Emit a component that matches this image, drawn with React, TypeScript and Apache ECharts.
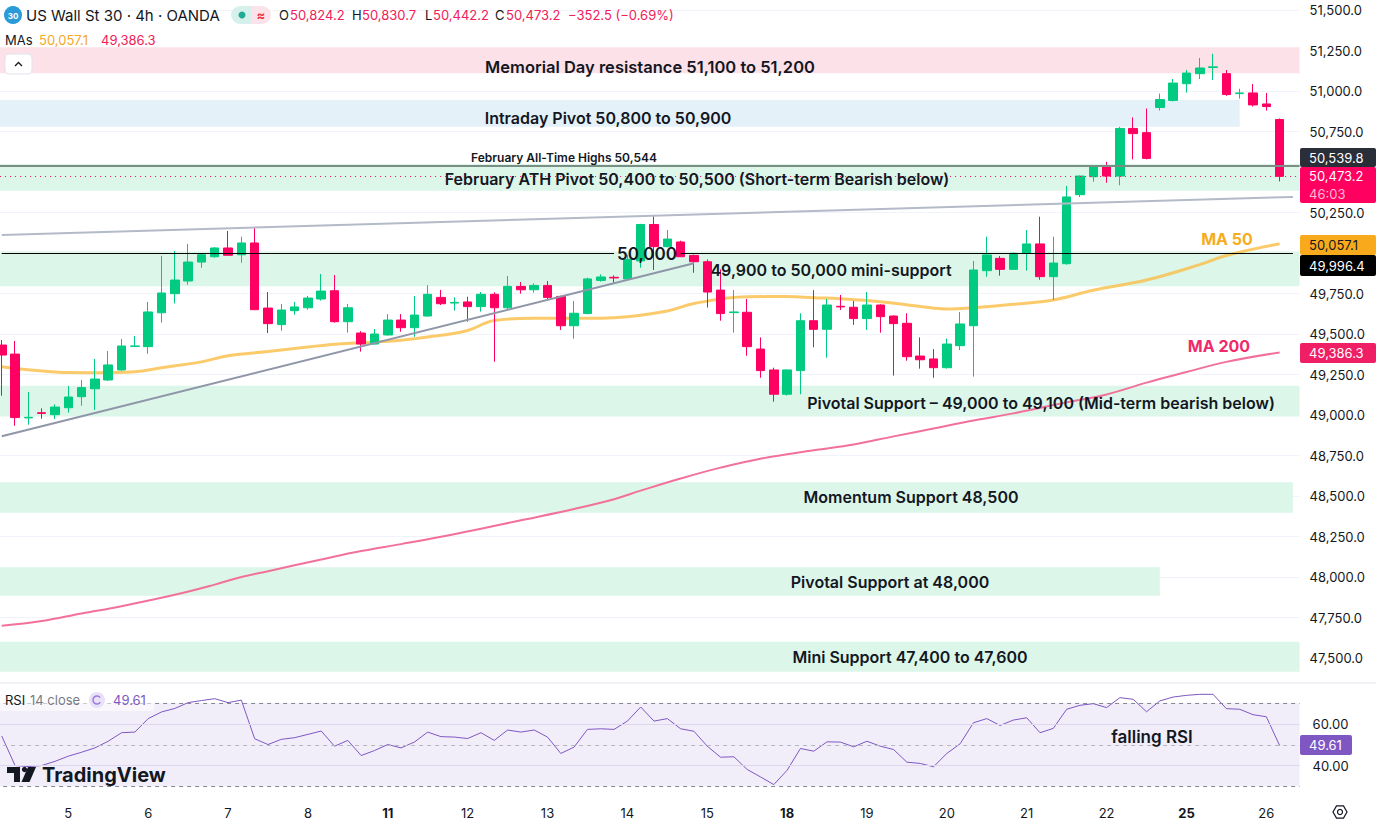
import React, { useEffect, useRef } from "react";
import * as echarts from "echarts";

// ---------- categories (4h candles) ----------
const days = ["4", "5", "6", "7", "8", "11", "12", "13", "14", "15", "18", "19", "20", "21", "22", "25", "26"];
const mondayDays = ["11", "18", "25"];
const hourSlots = ["00", "04", "08", "12", "16", "20"];
const firstDaySlots = 5;
const lastDaySlots = 3;
const FIRST = -5;

// ---------- OHLC (candle index -5 .. 91) ----------
const openP = [49432, 49376, 48982, 49014, 49002, 49045, 49113, 49162, 49216, 49278, 49424, 49422, 49631, 49749, 49827, 49944, 49977, 50031, 49989, 50062, 49660, 49558, 49644, 49662, 49716, 49767, 49576, 49506, 49438, 49494, 49586, 49539, 49611, 49726, 49691, 49698, 49669, 49745, 49662, 49794, 49773, 49800, 49732, 49551, 49626, 49831, 49850, 49840, 49951, 50176, 50039, 50068, 49985, 49946, 49771, 49632, 49634, 49407, 49278, 49128, 49274, 49582, 49529, 49671, 49665, 49595, 49679, 49611, 49566, 49364, 49346, 49292, 49428, 49551, 49891, 49967, 49899, 49998, 50056, 49854, 49934, 50360, 50471, 50532, 50475, 50769, 50743, 50898, 50942, 51045, 51107, 51145, 51107, 50984, 50988, 50920, 50824.2];
const closeP = [49370, 48984, 48986, 49010, 49049, 49111, 49169, 49222, 49309, 49426, 49426, 49636, 49753, 49833, 49944, 49989, 50031, 49986, 50062, 49650, 49564, 49648, 49667, 49722, 49765, 49576, 49662, 49438, 49500, 49586, 49539, 49617, 49745, 49687, 49695, 49669, 49745, 49662, 49794, 49773, 49800, 49726, 49551, 49628, 49840, 49852, 49846, 49961, 50176, 50039, 50086, 49977, 49946, 49759, 49626, 49636, 49422, 49274, 49128, 49278, 49582, 49529, 49679, 49667, 49595, 49679, 49607, 49564, 49360, 49341, 49292, 49438, 49562, 49895, 49988, 49899, 49998, 50056, 49854, 49938, 50346, 50475, 50532, 50475, 50769, 50737, 50584, 50947, 51049, 51111, 51142, 51149, 50978, 50988, 50914, 50904, 50473.2];
const lowP = [49119, 48934, 48940, 48977, 48975, 49014, 49057, 49031, 49210, 49272, 49422, 49378, 49570, 49689, 49804, 49909, 49971, 49984, 49940, 49648, 49506, 49520, 49619, 49650, 49706, 49570, 49508, 49391, 49435, 49490, 49514, 49483, 49608, 49679, 49644, 49576, 49638, 49329, 49648, 49749, 49755, 49716, 49525, 49471, 49622, 49823, 49817, 49838, 49909, 49895, 50035, 49975, 49878, 49663, 49582, 49508, 49366, 49230, 49082, 49120, 49128, 49418, 49354, 49648, 49556, 49525, 49508, 49243, 49335, 49286, 49230, 49286, 49401, 49237, 49854, 49860, 49897, 49891, 49835, 49710, 49928, 50346, 50440, 50434, 50418, 50578, 50578, 50880, 50935, 50990, 51074, 51068, 50970, 50953, 50904, 50879, 50442.2];
const highP = [49463, 49457, 49142, 49041, 49066, 49179, 49216, 49346, 49395, 49469, 49488, 49698, 49983, 50012, 50056, 49995, 50037, 50136, 50101, 50162, 49759, 49685, 49698, 49735, 49870, 49864, 49685, 49518, 49531, 49623, 49623, 49735, 49802, 49772, 49726, 49730, 49759, 49757, 49858, 49821, 49813, 49827, 49736, 49704, 49848, 49868, 49862, 49988, 50180, 50235, 50142, 50076, 49990, 49960, 49899, 49771, 49716, 49479, 49292, 49282, 49628, 49771, 49716, 49741, 49704, 49759, 49683, 49615, 49628, 49479, 49407, 49471, 49636, 49951, 50101, 49981, 50002, 50142, 50224, 50101, 50414, 50479, 50537, 50563, 50779, 50837, 50892, 50984, 51074, 51130, 51204, 51230, 51130, 51014, 51043, 50988, 50830.7];

// ---------- RSI 14 ----------
const rsiValues = [54.2, 40.0, 39.5, 40.0, 42.0, 44.5, 46.4, 48.5, 51.7, 55.8, 56.1, 62.6, 65.8, 67.5, 70.3, 71.3, 72.2, 70.3, 71.5, 52.9, 50.1, 52.6, 53.4, 55.0, 56.6, 49.3, 52.1, 44.8, 47.2, 50.1, 48.5, 51.3, 56.1, 53.9, 53.7, 53.0, 55.8, 52.1, 57.1, 56.1, 57.1, 53.7, 45.8, 48.9, 57.4, 57.7, 57.4, 61.4, 68.2, 61.4, 62.6, 57.7, 56.5, 49.3, 44.0, 44.2, 38.1, 34.5, 30.8, 37.7, 48.2, 46.9, 51.4, 51.3, 49.0, 51.7, 49.3, 47.7, 41.6, 41.0, 39.4, 45.8, 50.5, 60.6, 62.6, 59.3, 61.9, 63.0, 55.8, 57.9, 67.1, 69.0, 69.8, 67.9, 72.7, 71.9, 65.9, 71.1, 73.0, 73.8, 74.3, 74.3, 67.4, 67.1, 64.5, 63.5, 49.61];

// ---------- moving averages (read at sampled candles) ----------
const ma50Idx = [-5, -3, 0, 2, 5, 7, 10, 12, 15, 17, 20, 22, 25, 27, 30, 32, 35, 37, 40, 42, 45, 47, 51, 54, 56, 58, 61, 64, 66, 68, 71, 74, 77, 81, 85, 87, 91];
const ma50Val = [49298, 49280, 49262, 49261, 49267, 49292, 49328, 49366, 49392, 49410, 49436, 49446, 49462, 49481, 49522, 49584, 49597, 49597, 49597, 49606, 49642, 49688, 49730, 49731, 49724, 49717, 49699, 49670, 49654, 49662, 49683, 49710, 49770, 49833, 49928, 49985, 50057.1];
const ma200Idx = [-5, -2, 1, 4, 8, 11, 13, 15, 19, 22, 25, 28, 31, 34, 38, 41, 43, 46, 49, 52, 56, 59, 62, 65, 68, 71, 75, 78, 81, 84, 87, 91];
const ma200Val = [47699, 47728, 47775, 47820, 47890, 47953, 48000, 48036, 48108, 48160, 48203, 48248, 48298, 48350, 48420, 48480, 48533, 48608, 48675, 48730, 48782, 48818, 48868, 48917, 48966, 49010, 49078, 49127, 49200, 49265, 49328, 49386.3];

// ---------- zones ----------
const zoneLow = [51110, 50780, 50385, 49795, 48990, 48397, 47885, 47415];
const zoneHigh = [51270, 50945, 50550, 50010, 49180, 48585, 48060, 47600];
const zoneEnd: (number | null)[] = [null, 88, null, null, null, 92, 82, null];
const zoneColor = ["#FDE1E9", "#E4F1F9", "#DCF6EA", "#DCF6EA", "#DCF6EA", "#DCF6EA", "#DCF6EA", "#DCF6EA"];

// ---------- lines ----------
const athHigh = 50539.8;
const lastPrice = 50473.2;
const roundLevel = 49996.4;
const roundGap = [41, 46];
const upperTrend = [[-5, 50111], [92, 50346]];
const lowerTrend = [[-5, 48869], [47, 49937]];

// ---------- price axis ----------
const priceMin = 47250;
const priceMax = 51750;
const priceStep = 250;
const priceLabelMin = 47500;
const priceLabelMax = 51500;
const ticksUnderTags = [50500, 50000];

const categories: string[] = [];
days.forEach((d, di) => {
  let slots = hourSlots;
  if (di === 0) slots = hourSlots.slice(hourSlots.length - firstDaySlots);
  if (di === days.length - 1) slots = hourSlots.slice(0, lastDaySlots);
  slots.forEach((h) => categories.push(`${d} ${h}:00`));
});
const cat = (i: number) => categories[i - FIRST];

const fmt1 = (v: number) => v.toLocaleString("en-US", { minimumFractionDigits: 1, maximumFractionDigits: 1 });

const UP = "#00CB80";
const DOWN = "#FF0062";
const INK = "#131722";
const FONT = "Inter, Roboto, 'Noto Sans', sans-serif";

function txt(x: number, y: number, text: string, font: string, fill: string, align = "center") {
  return { type: "text", x, y, z: 100, silent: true, style: { text, font, fill, textAlign: align, textVerticalAlign: "middle" } };
}
function rect(x: number, y: number, w: number, h: number, fill: string, extra: any = {}) {
  return { type: "rect", z: 99, silent: true, shape: { x, y, width: w, height: h, r: extra.r || 0 }, style: { fill, stroke: extra.stroke, lineWidth: extra.lineWidth || 0 } };
}

function buildOption(): any {
  const candles = openP.map((o, k) => [o, closeP[k], lowP[k], highP[k]]);
  const zones = zoneLow.map((lo, k) => {
    const end = zoneEnd[k];
    return [
      { yAxis: lo, itemStyle: { color: zoneColor[k] } },
      end === null ? { yAxis: zoneHigh[k] } : { xAxis: cat(end), yAxis: zoneHigh[k] },
    ];
  });

  const hexPts: number[][] = [];
  for (let a = 0; a < 6; a++) {
    const ang = (Math.PI / 3) * a;
    hexPts.push([1340 + 7 * Math.cos(ang), 812 + 7 * Math.sin(ang)]);
  }

  const ann = `600 16px ${FONT}`;
  const graphics: any[] = [
    // pane separator
    { type: "line", z: 98, silent: true, shape: { x1: 0, y1: 683, x2: 1376, y2: 683 }, style: { stroke: "#E0E3EB", lineWidth: 1 } },
    // header
    { type: "circle", z: 100, silent: true, shape: { cx: 13, cy: 15, r: 9 }, style: { fill: "#2A9BD8" } },
    txt(13, 15.5, "30", `bold 8px ${FONT}`, "#fff"),
    txt(26, 15, "US Wall St 30 · 4h · OANDA", `15px ${FONT}`, INK, "left"),
    rect(231, 6, 20, 18, "#D6F1EC", { r: [9, 0, 0, 9] }),
    rect(251, 6, 20, 18, "#FCE3EA", { r: [0, 9, 9, 0] }),
    { type: "circle", z: 100, silent: true, shape: { cx: 242, cy: 15, r: 3.5 }, style: { fill: "#22AB94" } },
    txt(261, 15, "≈", `bold 13px ${FONT}`, "#F23645"),
    txt(279, 15, "O", `13px ${FONT}`, INK, "left"),
    txt(290, 15, "50,824.2", `13px ${FONT}`, "#F0205A", "left"),
    txt(352, 15, "H", `13px ${FONT}`, INK, "left"),
    txt(362, 15, "50,830.7", `13px ${FONT}`, "#F0205A", "left"),
    txt(425, 15, "L", `13px ${FONT}`, INK, "left"),
    txt(433, 15, "50,442.2", `13px ${FONT}`, "#F0205A", "left"),
    txt(495, 15, "C", `13px ${FONT}`, INK, "left"),
    txt(506, 15, "50,473.2", `13px ${FONT}`, "#F0205A", "left"),
    txt(568, 15, "−352.5 (−0.69%)", `13px ${FONT}`, "#F0205A", "left"),
    txt(5, 40, "MAs", `13px ${FONT}`, INK, "left"),
    txt(39, 40, "50,057.1", `13px ${FONT}`, "#F7A825", "left"),
    txt(101, 40, "49,386.3", `13px ${FONT}`, "#F0205A", "left"),
    rect(5, 54, 27, 20, "#FFFFFF", { r: 4, stroke: "#E0E3EB", lineWidth: 1 }),
    { type: "polyline", z: 100, silent: true, shape: { points: [[15, 66], [18.5, 62.5], [22, 66]] }, style: { stroke: INK, lineWidth: 1.3, fill: "none" } },
    // annotations
    txt(650, 67, "Memorial Day resistance 51,100 to 51,200", `600 16.5px ${FONT}`, INK),
    txt(608, 118, "Intraday Pivot 50,800 to 50,900", ann, INK),
    txt(564, 157, "February All-Time Highs 50,544", `600 12px ${FONT}`, INK),
    txt(697, 179, "February ATH Pivot 50,400 to 50,500 (Short-term Bearish below)", ann, INK),
    txt(647, 254, "50,000", `600 17px ${FONT}`, INK),
    txt(831, 270, "49,900 to 50,000 mini-support", ann, INK),
    txt(1041, 403, "Pivotal Support – 49,000 to 49,100 (Mid-term bearish below)", ann, INK),
    txt(911, 497, "Momentum Support 48,500", ann, INK),
    txt(890, 582, "Pivotal Support at 48,000", ann, INK),
    txt(910, 657, "Mini Support 47,400 to 47,600", ann, INK),
    txt(1227, 239, "MA 50", `bold 16px ${FONT}`, "#F6AC1E"),
    txt(1219, 346, "MA 200", `bold 16px ${FONT}`, "#EF2A6B"),
    txt(1152, 737, "falling RSI", `600 17px ${FONT}`, INK),
    // price tags
    rect(1300, 148, 76, 19, "#2A2E39", { r: 2 }),
    txt(1309, 157.5, "50,539.8", `13px ${FONT}`, "#FFFFFF", "left"),
    rect(1300, 167, 76, 36, "#FF0060", { r: 2 }),
    txt(1309, 176, fmt1(lastPrice), `13px ${FONT}`, "#FFFFFF", "left"),
    txt(1309, 194, "46:03", `13px ${FONT}`, "rgba(255,255,255,0.72)", "left"),
    rect(1300, 235, 76, 20, "#F8AA1C", { r: 2 }),
    txt(1309, 245, "50,057.1", `13px ${FONT}`, INK, "left"),
    rect(1300, 255, 76, 21, "#000000", { r: 2 }),
    txt(1309, 265.5, fmt1(roundLevel), `13px ${FONT}`, "#FFFFFF", "left"),
    rect(1300, 343, 76, 20, "#F01E64", { r: 2 }),
    txt(1309, 353, "49,386.3", `13px ${FONT}`, "#FFFFFF", "left"),
    rect(1300, 735, 52, 20, "#7E57C2", { r: 2 }),
    txt(1309, 745, "49.61", `13px ${FONT}`, "#FFFFFF", "left"),
    // RSI legend
    rect(0, 689, 154, 22, "rgba(255,255,255,0.55)"),
    txt(5, 700, "RSI", `13px ${FONT}`, INK, "left"),
    txt(30, 700, "14 close", `13px ${FONT}`, "#787B86", "left"),
    { type: "circle", z: 100, silent: true, shape: { cx: 97, cy: 700, r: 8 }, style: { fill: "#E9E1F8" } },
    { type: "arc", z: 101, silent: true, shape: { cx: 97, cy: 700, r: 4, startAngle: 0.6, endAngle: 5.6 }, style: { stroke: "#9C7BD9", lineWidth: 1.5, fill: "none" } },
    txt(113, 700, "49.61", `13px ${FONT}`, "#7E57C2", "left"),
    // TradingView logo
    { type: "polygon", z: 100, silent: true, shape: { points: [[7, 767], [20, 767], [20, 782], [14, 782], [14, 773], [7, 773]] }, style: { fill: INK } },
    { type: "circle", z: 100, silent: true, shape: { cx: 24.5, cy: 769.5, r: 2.6 }, style: { fill: INK } },
    { type: "polygon", z: 100, silent: true, shape: { points: [[28, 767], [36, 767], [29.5, 782], [21.5, 782]] }, style: { fill: INK } },
    txt(42, 775, "TradingView", `bold 20px ${FONT}`, INK, "left"),
    // settings icon
    { type: "polygon", z: 100, silent: true, shape: { points: hexPts }, style: { stroke: INK, lineWidth: 1.2, fill: "none" } },
    { type: "circle", z: 100, silent: true, shape: { cx: 1340, cy: 812, r: 2.5 }, style: { stroke: INK, lineWidth: 1.2, fill: "none" } },
  ];

  return {
    animation: false,
    backgroundColor: "#FFFFFF",
    textStyle: { fontFamily: FONT },
    grid: [
      { left: -4.9, width: 1304.5, top: -30.5, height: 729, containLabel: false, outerBoundsMode: "none" },
      { left: -4.9, width: 1304.5, top: 682.5, height: 124.5, containLabel: false, outerBoundsMode: "none" },
    ],
    xAxis: [
      { type: "category", gridIndex: 0, data: categories, axisLabel: { show: false }, axisLine: { show: false }, axisTick: { show: false }, splitLine: { show: false } },
      {
        type: "category", gridIndex: 1, data: categories, axisLine: { show: false }, axisTick: { show: false }, splitLine: { show: false },
        axisLabel: {
          interval: (_i: number, v: string) => v.endsWith("00:00"),
          formatter: (v: string) => {
            const d = v.split(" ")[0];
            return mondayDays.includes(d) ? `{b|${d}}` : d;
          },
          color: INK, fontSize: 13, margin: -1,
          rich: { b: { fontWeight: "bold", fontSize: 13, color: INK } },
        },
      },
    ],
    yAxis: [
      {
        type: "value", gridIndex: 0, position: "right", min: priceMin, max: priceMax, interval: priceStep,
        axisLine: { show: false }, axisTick: { show: false },
        axisLabel: {
          color: INK, fontSize: 13, margin: 10,
          formatter: (v: number) => (v < priceLabelMin || v > priceLabelMax || ticksUnderTags.includes(v) ? "" : fmt1(v)),
        },
        splitLine: { show: true, lineStyle: { color: "#F0F3FA", width: 1 }, showMinLine: false, showMaxLine: false },
      },
      {
        type: "value", gridIndex: 1, position: "right", min: 20, max: 80, interval: 10,
        axisLine: { show: false }, axisTick: { show: false }, splitLine: { show: false },
        axisLabel: { color: INK, fontSize: 13, margin: 13, formatter: (v: number) => (v === 60 || v === 40 ? v.toFixed(2) : "") },
      },
    ],
    graphic: { elements: graphics },
    series: [
      {
        type: "candlestick", name: "US30", xAxisIndex: 0, yAxisIndex: 0, data: candles, barWidth: 9, z: 3,
        itemStyle: { color: UP, color0: DOWN, borderColor: UP, borderColor0: DOWN, borderWidth: 1 },
        markArea: { silent: true, label: { show: false }, data: zones },
        markLine: {
          silent: true, symbol: ["none", "none"], label: { show: false },
          data: [
            { yAxis: athHigh, lineStyle: { color: "#7B8E86", width: 2, type: "solid" } },
            { yAxis: lastPrice, lineStyle: { color: "#FF0060", width: 1, type: [1, 4] } },
            [{ coord: [cat(FIRST), roundLevel], lineStyle: { color: "#000000", width: 1.2, type: "solid" } }, { coord: [cat(roundGap[0]), roundLevel] }],
            [{ coord: [cat(roundGap[1]), roundLevel], lineStyle: { color: "#000000", width: 1.2, type: "solid" } }, { coord: [cat(92), roundLevel] }],
            [{ coord: [cat(upperTrend[0][0]), upperTrend[0][1]], lineStyle: { color: "#B4BAC8", width: 2, type: "solid" } }, { coord: [cat(upperTrend[1][0]), upperTrend[1][1]] }],
            [{ coord: [cat(lowerTrend[0][0]), lowerTrend[0][1]], lineStyle: { color: "#8E96A8", width: 2, type: "solid" } }, { coord: [cat(lowerTrend[1][0]), lowerTrend[1][1]] }],
          ],
        },
      },
      {
        type: "line", name: "MA 50", xAxisIndex: 0, yAxisIndex: 0, smooth: 0.4, symbol: "none", z: 2, silent: true,
        data: ma50Idx.map((i, k) => [i - FIRST, ma50Val[k]]),
        lineStyle: { color: "rgba(250,190,70,0.8)", width: 3 },
      },
      {
        type: "line", name: "MA 200", xAxisIndex: 0, yAxisIndex: 0, smooth: 0.4, symbol: "none", z: 2, silent: true,
        data: ma200Idx.map((i, k) => [i - FIRST, ma200Val[k]]),
        lineStyle: { color: "#F2719B", width: 2 },
      },
      {
        type: "line", name: "RSI", xAxisIndex: 1, yAxisIndex: 1, symbol: "none", silent: true,
        data: rsiValues,
        lineStyle: { color: "#7E57C2", width: 1 },
        markArea: { silent: true, label: { show: false }, data: [[{ yAxis: 30, itemStyle: { color: "rgba(126,87,194,0.1)" } }, { yAxis: 70 }]] },
        markLine: {
          silent: true, symbol: ["none", "none"], label: { show: false },
          data: [
            { yAxis: 70, lineStyle: { color: "#868993", width: 1, type: [4, 4] } },
            { yAxis: 50, lineStyle: { color: "#B6B8C0", width: 1, type: [4, 4] } },
            { yAxis: 30, lineStyle: { color: "#868993", width: 1, type: [4, 4] } },
            { yAxis: 60, lineStyle: { color: "#DDD6EE", width: 1, type: "solid" } },
            { yAxis: 40, lineStyle: { color: "#DDD6EE", width: 1, type: "solid" } },
          ],
        },
      },
    ],
  };
}

export default function App() {
  const ref = useRef<HTMLDivElement>(null);
  useEffect(() => {
    if (!ref.current) return;
    const chart = echarts.init(ref.current, undefined, { renderer: "svg" });
    chart.setOption(buildOption());
    return () => chart.dispose();
  }, []);
  return <div ref={ref} style={{ position: "fixed", left: 0, top: 0, width: 1376, height: 827, background: "#FFFFFF" }} />;
}
